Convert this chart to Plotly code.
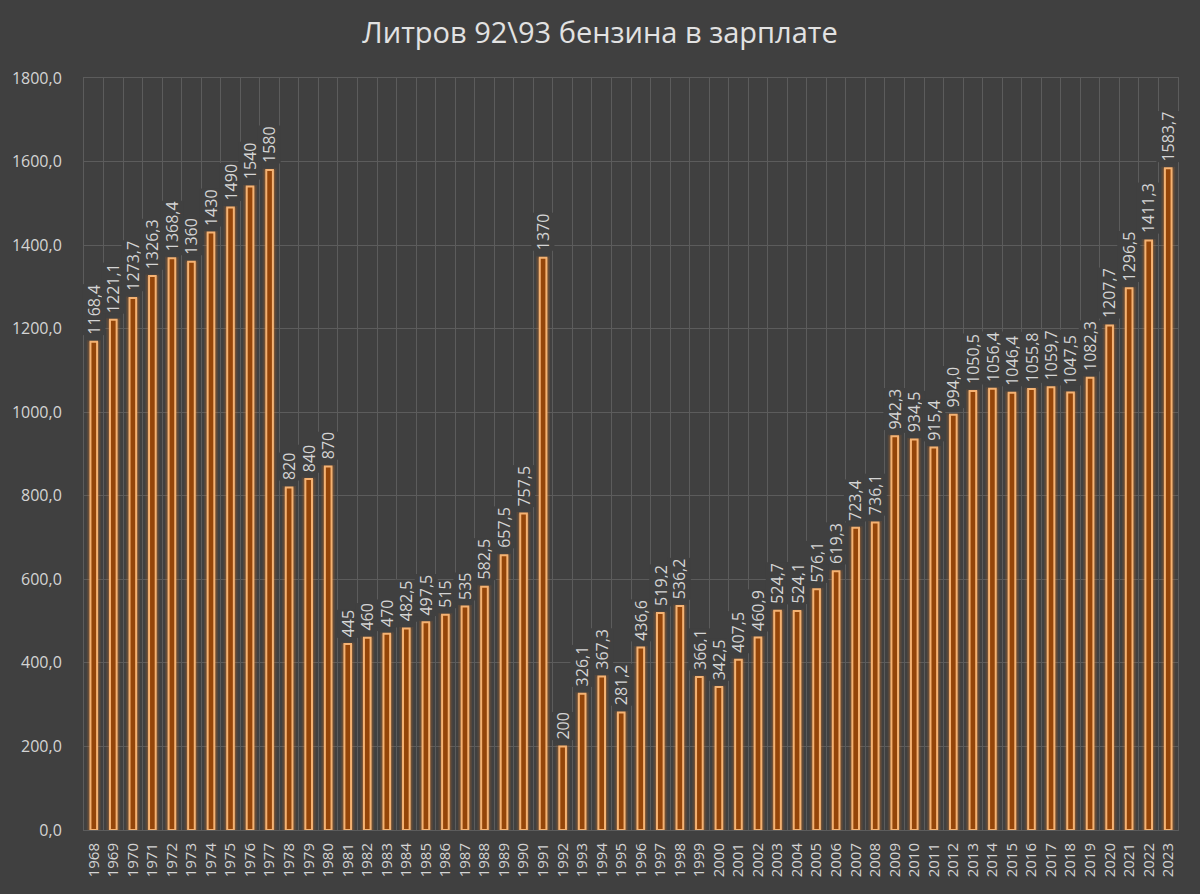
import plotly.graph_objects as go

years = list(range(1968, 2024))
values = [1168.4, 1221.1, 1273.7, 1326.3, 1368.4, 1360, 1430, 1490, 1540, 1580,
          820, 840, 870, 445, 460, 470, 482.5, 497.5, 515, 535,
          582.5, 657.5, 757.5, 1370, 200, 326.1, 367.3, 281.2, 436.6, 519.2,
          536.2, 366.1, 342.5, 407.5, 460.9, 524.7, 524.1, 576.1, 619.3, 723.4,
          736.1, 942.3, 934.5, 915.4, 994.0, 1050.5, 1056.4, 1046.4, 1055.8, 1059.7,
          1047.5, 1082.3, 1207.7, 1296.5, 1411.3, 1583.7]
labels = ["1168,4", "1221,1", "1273,7", "1326,3", "1368,4", "1360", "1430", "1490", "1540", "1580",
          "820", "840", "870", "445", "460", "470", "482,5", "497,5", "515", "535",
          "582,5", "657,5", "757,5", "1370", "200", "326,1", "367,3", "281,2", "436,6", "519,2",
          "536,2", "366,1", "342,5", "407,5", "460,9", "524,7", "524,1", "576,1", "619,3", "723,4",
          "736,1", "942,3", "934,5", "915,4", "994,0", "1050,5", "1056,4", "1046,4", "1055,8", "1059,7",
          "1047,5", "1082,3", "1207,7", "1296,5", "1411,3", "1583,7"]
year_labels = [str(y) for y in years]
y_ticks = [0, 200, 400, 600, 800, 1000, 1200, 1400, 1600, 1800]

BG = "#404040"
GRID = "#5c5c5c"
TXT = "#d4d4d4"
FONT = "Open Sans"

fig = go.Figure()
# glow layer
fig.add_trace(go.Bar(
    x=years, y=values, width=0.56,
    marker=dict(color="rgba(235,125,30,0.20)",
                line=dict(color="rgba(235,125,30,0.12)", width=3)),
    hoverinfo="skip", showlegend=False))
# core bar
fig.add_trace(go.Bar(
    x=years, y=values, width=0.34,
    marker=dict(color="#944509", line=dict(color="#f5b272", width=2)),
    showlegend=False))

for x, v, t in zip(years, values, labels):
    fig.add_annotation(x=x, y=v, text=t, textangle=-90, showarrow=False,
                       xanchor="center", yanchor="bottom", yshift=6,
                       bgcolor=BG, borderpad=0,
                       font=dict(family=FONT, size=16, color=TXT))

fig.update_layout(
    width=1200, height=894,
    paper_bgcolor=BG, plot_bgcolor=BG,
    barmode="overlay",
    separators=", ",
    margin=dict(l=80, r=22, t=78, b=64),
    title=dict(text="Литров 92\\93 бензина в зарплате", x=0.5, xanchor="center",
               y=0.963, yanchor="middle",
               font=dict(family=FONT, size=29, color="#e2e2e2")),
    xaxis=dict(range=[years[0] - 0.5, years[-1] + 0.5],
               tickmode="array", tickvals=years, ticktext=year_labels,
               tickangle=-90, showgrid=False, zeroline=False,
               ticks="", ticklabelstandoff=6,
               tickfont=dict(family=FONT, size=15, color=TXT),
               showline=True, linecolor=GRID, mirror=True,
               minor=dict(showgrid=True, gridcolor=GRID, gridwidth=1,
                          tickmode="array", tickvals=[y - 0.5 for y in years] + [years[-1] + 0.5])),
    yaxis=dict(range=[0, 1800], tickmode="array", tickvals=y_ticks,
               tickformat=".1f", showgrid=True, gridcolor=GRID, gridwidth=1,
               zeroline=False, ticks="", ticklabelstandoff=18,
               tickfont=dict(family=FONT, size=16, color=TXT),
               showline=True, linecolor=GRID, mirror=True),
)

fig.write_html("out.html")
